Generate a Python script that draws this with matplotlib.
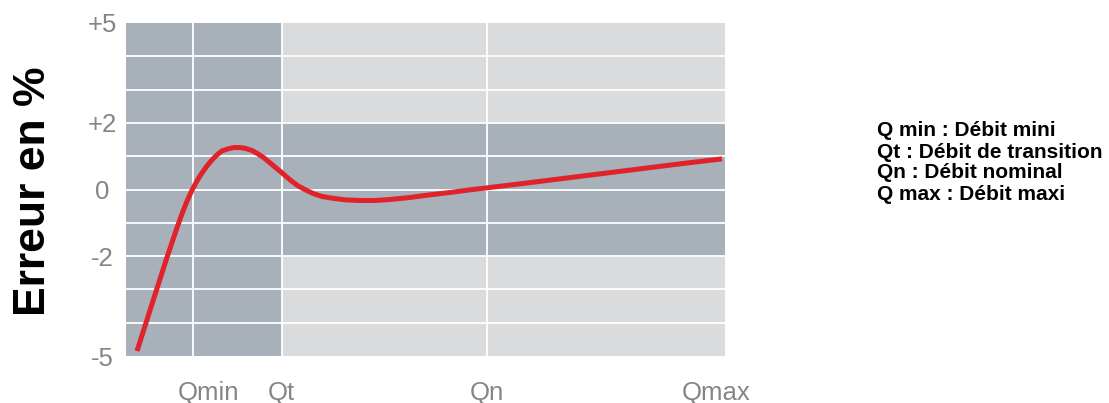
import matplotlib
matplotlib.use("Agg")
import matplotlib.pyplot as plt
import matplotlib.transforms as mtransforms

plt.rcParams['font.family'] = ['Liberation Sans', 'DejaVu Sans']

# ---- data ----
flow_labels = ["Qmin", "Qt", "Qn", "Qmax"]
flow_pos = [11.2, 26.0, 60.2, 100.0]          # position on the flow axis (0..100)
y_ticks = [5, 2, 0, -2, -5]
y_ticklabels = ["+5", "+2", "0", "-2", "-5"]
tolerance_band = (-2, 2)                      # error band after Qt

curve_x = [1.84, 2.67, 3.51, 4.34, 5.18, 6.01, 6.84, 7.68, 8.51, 9.35, 10.18,
           11.02, 11.85, 12.69, 13.52, 14.36, 15.19, 16.03, 17.03, 18.03,
           19.03, 20.03, 21.04, 22.04, 23.04, 24.04, 25.04, 26.04, 27.38,
           28.71, 30.05, 31.39, 32.72, 34.39, 36.56, 39.07, 41.57, 44.07,
           47.41, 50.75, 54.09, 57.43, 60.27, 65.78, 72.45, 79.13, 85.81,
           92.49, 99.50]
curve_y = [-4.85, -4.38, -3.91, -3.44, -2.97, -2.50, -2.04, -1.59, -1.15,
           -0.73, -0.35, -0.02, 0.26, 0.50, 0.71, 0.89, 1.04, 1.16, 1.22,
           1.26, 1.26, 1.23, 1.17, 1.07, 0.95, 0.80, 0.65, 0.50, 0.29, 0.11,
           -0.02, -0.13, -0.21, -0.26, -0.31, -0.33, -0.33, -0.30, -0.24,
           -0.16, -0.09, -0.01, 0.05, 0.17, 0.32, 0.47, 0.62, 0.77, 0.92]

legend_lines = ["Q min : Débit mini",
                "Qt : Débit de transition",
                "Qn : Débit nominal",
                "Q max : Débit maxi"]

# ---- style ----
dark = "#a8b0b9"
light = "#d9dbdd"
red = "#e0222b"
tick_grey = "#858585"

fig = plt.figure(figsize=(11.09, 4.03), dpi=100)
ax = fig.add_axes([126/1109, 1-356/403, 599/1109, 333/403])
ax.set_xlim(0, 100)
ax.set_ylim(-5, 5)
ax.set_facecolor(light)

# shaded regions
ax.axvspan(0, flow_pos[1], color=dark, lw=0, zorder=0)
ax.fill_between([flow_pos[1], 100], tolerance_band[0], tolerance_band[1],
                color=dark, lw=0, zorder=0)

# white grid
for yv in range(-4, 5):
    ax.axhline(yv, color="white", lw=1.3, zorder=1)
for xv in flow_pos[:3]:
    ax.axvline(xv, color="white", lw=1.3, zorder=1)

ax.plot(curve_x, curve_y, color=red, lw=3.6, solid_capstyle="butt",
        solid_joinstyle="round", zorder=3)

for s in ax.spines.values():
    s.set_visible(False)

ax.set_yticks(y_ticks)
ax.set_yticklabels(y_ticklabels, fontsize=18.5, color=tick_grey, ha="center")
ax.set_xticks(flow_pos)
ax.set_xticklabels(flow_labels, fontsize=18.5, color=tick_grey)
ax.tick_params(axis="y", length=0, pad=17)
ax.tick_params(axis="x", length=0, pad=18)

# nudge some x labels like the original
offsets = {"Qmin": 15, "Qmax": -9}
for lab in ax.get_xticklabels():
    dx = offsets.get(lab.get_text(), 0)
    if dx:
        lab.set_transform(lab.get_transform() +
                          mtransforms.ScaledTranslation(dx/100, 0, fig.dpi_scale_trans))

fig.text(34/1109, 1-191/403, "Erreur en %", rotation=90, fontsize=32,
         fontweight="bold", color="black", ha="center", va="center")

for i, line in enumerate(legend_lines):
    fig.text(877/1109, 1-(131 + 21*i)/403, line, fontsize=15,
             fontweight="bold", color="black", ha="left", va="center")

fig.savefig("out.png", dpi=100)
